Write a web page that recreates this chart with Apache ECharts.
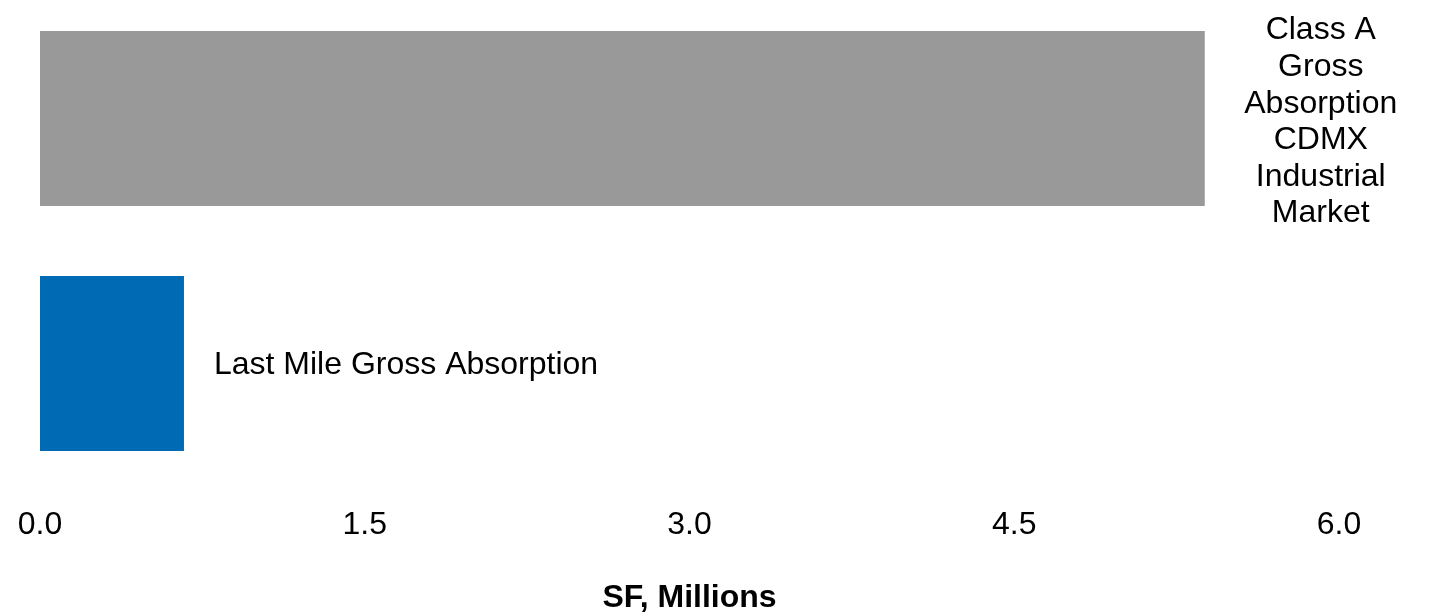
<!DOCTYPE html>
<html>
<head>
<meta charset="utf-8">
<script src="https://cdn.jsdelivr.net/npm/echarts@6/dist/echarts.min.js"></script>
<style>
  html, body { margin: 0; padding: 0; background: #ffffff; }
  #chart { width: 1437px; height: 614px; }
</style>
</head>
<body>
<div id="chart"></div>
<script>
// Absorption, SF millions
const categories = [
  'Class A\nGross\nAbsorption\nCDMX\nIndustrial\nMarket',
  'Last Mile Gross Absorption'
];
const values = [5.38, 0.665];
const barColors = ['#999999', '#006ab5'];
const tickValues = [0, 1.5, 3, 4.5, 6];
const axisTitle = 'SF, Millions';

const FONT = '"Liberation Sans", Arial, Helvetica, sans-serif';

const chart = echarts.init(document.getElementById('chart'));

const data = values.map((v, i) => ({
  value: v,
  itemStyle: { color: barColors[i] },
  label: i === 0
    ? { position: 'right', align: 'center', distance: 116, lineHeight: 36.6, offset: [0, 3.5] }
    : { position: 'right', align: 'left', distance: 30, offset: [0, 2] }
}));

chart.setOption({
  animation: false,
  grid: {
    left: 40, right: 98, top: -4, bottom: 128,
    containLabel: false,
    outerBoundsMode: 'none'
  },
  xAxis: {
    type: 'value',
    min: tickValues[0],
    max: tickValues[tickValues.length - 1],
    interval: 1.5,
    name: axisTitle,
    nameLocation: 'middle',
    nameGap: 96,
    nameTextStyle: { fontFamily: FONT, fontSize: 32, fontWeight: 'bold', color: '#000' },
    axisLine: { show: false },
    axisTick: { show: false },
    splitLine: { show: false },
    axisLabel: {
      margin: 23,
      fontFamily: FONT,
      fontSize: 32,
      color: '#000',
      formatter: v => v.toFixed(1)
    }
  },
  yAxis: {
    type: 'category',
    inverse: true,
    data: categories,
    axisLine: { show: false },
    axisTick: { show: false },
    axisLabel: { show: false },
    splitLine: { show: false }
  },
  series: [{
    type: 'bar',
    barWidth: 175,
    data: data,
    label: {
      show: true,
      fontFamily: FONT,
      fontSize: 32,
      color: '#000',
      formatter: p => categories[p.dataIndex]
    }
  }]
});
</script>
</body>
</html>
